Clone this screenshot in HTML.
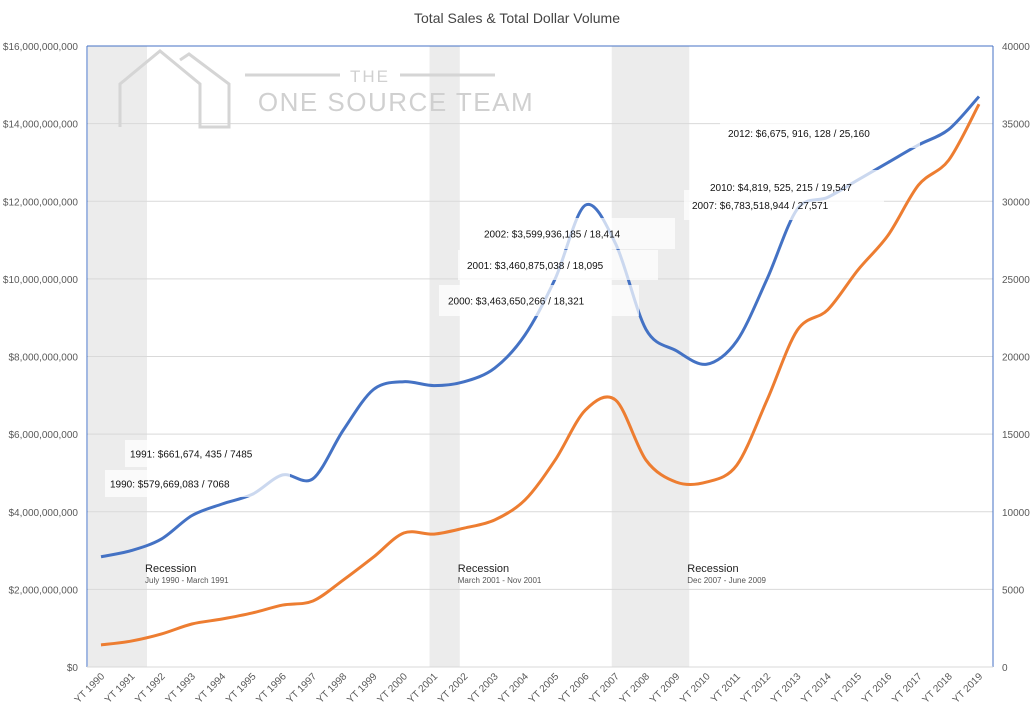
<!DOCTYPE html>
<html><head><meta charset="utf-8"><style>
body{margin:0;background:#fff;font-family:"Liberation Sans",Calibri,sans-serif}
svg text{font-family:"Liberation Sans",sans-serif}
</style></head><body>
<svg id="c" width="1034" height="716" viewBox="0 0 1034 716">
<text x="517" y="23" text-anchor="middle" font-size="14" fill="#444">Total Sales &amp; Total Dollar Volume</text>
<g id="bands"></g>
<g id="grid"></g>
<g id="logo" stroke="#d5d5d5" fill="none" stroke-width="3">
<polyline points="120,127 120,84 160,51 200,84 200,127 229,127 229,84 189,54 180,60"/>
<line x1="245" y1="75" x2="340" y2="75"/><line x1="400" y1="75" x2="495" y2="75"/>
</g>
<text x="370" y="82" text-anchor="middle" font-size="17" fill="#d0d0d0" letter-spacing="2">THE</text>
<text x="396" y="111" text-anchor="middle" font-size="26" fill="#d0d0d0" letter-spacing="1.5">ONE SOURCE TEAM</text>
<g id="axes"></g>
<g id="series"></g>
<g id="notes"></g>
</svg>
<script>
const years = ["YT 1990","YT 1991","YT 1992","YT 1993","YT 1994","YT 1995","YT 1996","YT 1997","YT 1998","YT 1999","YT 2000","YT 2001","YT 2002","YT 2003","YT 2004","YT 2005","YT 2006","YT 2007","YT 2008","YT 2009","YT 2010","YT 2011","YT 2012","YT 2013","YT 2014","YT 2015","YT 2016","YT 2017","YT 2018","YT 2019"];
const dollarVolume = [2.84,3.0,3.3,3.9,4.2,4.45,4.95,4.85,6.1,7.15,7.35,7.25,7.35,7.7,8.55,10.0,11.9,10.9,8.7,8.15,7.8,8.4,10.0,11.8,12.1,12.55,13.0,13.45,13.85,14.7];
const totalSales = [1420,1670,2130,2770,3090,3480,3990,4250,5600,7080,8630,8560,8950,9470,10750,13330,16550,17190,13330,11910,11910,13000,17190,21700,23000,25570,27820,31040,32650,36250];
const leftTicks = [0,2,4,6,8,10,12,14,16];
const rightTicks = [0,5000,10000,15000,20000,25000,30000,35000,40000];
const recessions = [[-0.6,1.52],[10.85,11.85],[16.87,19.43]];
const recessionLabels = [["Recession","July 1990 - March 1991"],["Recession","March 2001 -  Nov 2001"],["Recession","Dec 2007 - June 2009"]];

const NS="http://www.w3.org/2000/svg";
const L=87,R=993,T=46,B=667;
const x0=101,step=(979-101)/29;
const xs=i=>x0+i*step;
const yL=v=>B-(v/16)*(B-T);
const yR=v=>B-(v/40000)*(B-T);
function mk(tag,attrs,parent,txt){const e=document.createElementNS(NS,tag);for(const k in attrs)e.setAttribute(k,attrs[k]);if(txt!=null)e.textContent=txt;document.getElementById(parent).appendChild(e);return e;}
recessions.forEach(r=>{
 const a=Math.max(L+1,xs(r[0])), b=xs(r[1]);
 const e=mk('rect',{x:a,y:T,width:b-a,height:B-T,fill:'#ececec'},'bands');
 
 
});
leftTicks.forEach((v,i)=>{
 if(v>0){const g=mk('line',{x1:L,x2:R,y1:yL(v),y2:yL(v),stroke:'#d9d9d9'},'grid');
 }
 const t=mk('text',{x:78,y:yL(v)+4,'text-anchor':'end','font-size':'10',fill:'#595959'},'axes',v===0?'$0':'$'+(v*1e9).toLocaleString('en-US'));
 
});
rightTicks.forEach(v=>{
 const t=mk('text',{x:1002,y:yR(v)+4,'font-size':'10',fill:'#595959'},'axes',String(v));
 
});
let a1=mk('line',{x1:L,x2:L,y1:T,y2:B,stroke:'#4472c4'},'axes');
let a2=mk('line',{x1:R,x2:R,y1:T,y2:B,stroke:'#4472c4'},'axes');
let a3=mk('line',{x1:L,x2:R,y1:T,y2:T,stroke:'#4472c4'},'axes');
let a4=mk('line',{x1:L,x2:R,y1:B,y2:B,stroke:'#d9d9d9'},'axes');
years.forEach((y,i)=>{
 const t=mk('text',{x:0,y:0,'font-size':'10',fill:'#595959','text-anchor':'end',transform:`translate(${xs(i)+4},${B+10}) rotate(-45)`},'axes',y);
 
});
function smooth(pts){let d=`M${pts[0][0]},${pts[0][1]}`;for(let i=0;i<pts.length-1;i++){const p0=pts[i-1]||pts[i],p1=pts[i],p2=pts[i+1],p3=pts[i+2]||p2;const t=0.16;d+=` C${p1[0]+(p2[0]-p0[0])*t},${p1[1]+(p2[1]-p0[1])*t} ${p2[0]-(p3[0]-p1[0])*t},${p2[1]-(p3[1]-p1[1])*t} ${p2[0]},${p2[1]}`;}return d;}
const pb=mk('path',{d:smooth(dollarVolume.map((v,i)=>[xs(i),yL(v)])),fill:'none',stroke:'#4472c4','stroke-width':3},'series');

const po=mk('path',{d:smooth(totalSales.map((v,i)=>[xs(i),yR(v)])),fill:'none',stroke:'#ed7d31','stroke-width':3},'series');

const boxes=[[105,470,185,27,"1990: $579,669,083 / 7068",110],[125,440,175,27,"1991: $661,674, 435 / 7485",130],[439,285,200,31,"2000: $3,463,650,266 / 18,321",448],[458,250,200,30,"2001: $3,460,875,038 / 18,095",467],[470,218,205,31,"2002: $3,599,936,185 / 18,414",484],[684,190,200,30,"2007: $6,783,518,944 / 27,571",692],[700,170,200,20,"2010: $4,819, 525, 215 / 19,547",710],[720,118,200,30,"2012: $6,675, 916, 128 / 25,160",728]];
boxes.forEach(b=>{
 const r=mk('rect',{x:b[0],y:b[1],width:b[2],height:b[3],fill:'#fff','fill-opacity':0.72},'notes');
 
});
boxes.forEach(b=>{
 const yy=b[4].startsWith('2010')?b[1]+21:b[1]+b[3]/2+4;
 const t=mk('text',{x:b[5],y:yy,'font-size':'10',fill:'#111'},'notes',b[4]);
 
});
recessionLabels.forEach((r,i)=>{
 const x=xs(recessions[i][1])-2;
 const t=mk('text',{x:x,y:572,'font-size':'11',fill:'#222'},'notes',r[0]);
 
 const s=mk('text',{x:x,y:583,'font-size':'8',fill:'#555'},'notes',r[1]);
 
});
</script>
</body></html>
